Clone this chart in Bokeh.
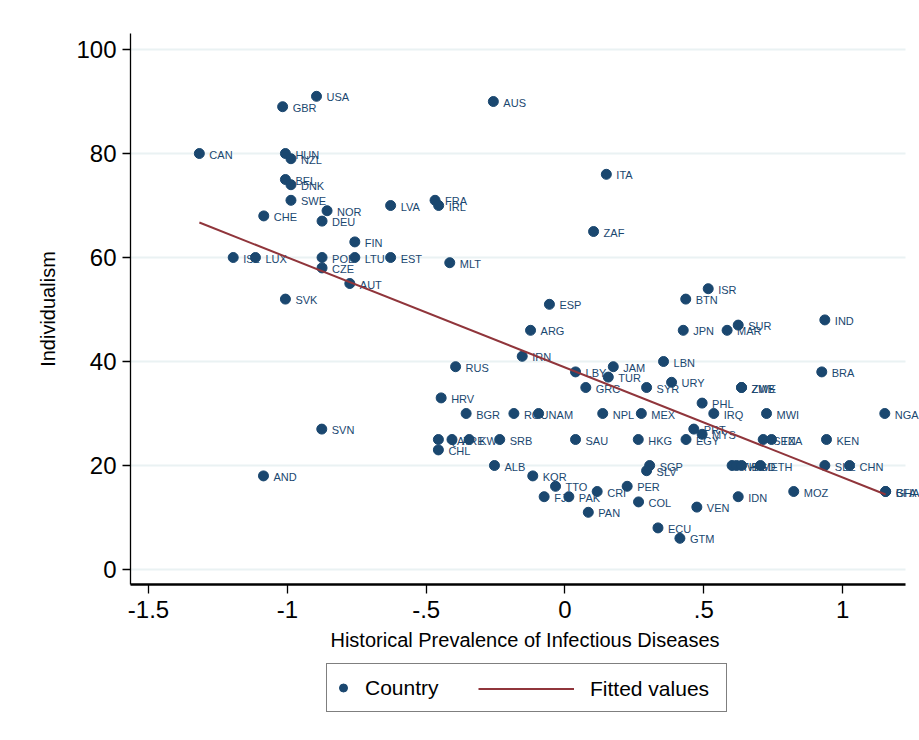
import numpy as np
from bokeh.plotting import figure
from bokeh.layouts import column
from bokeh.models import ColumnDataSource, FixedTicker, Legend, LegendItem, Range1d
from bokeh.core.properties import value
from bokeh.embed import file_html
from bokeh.resources import INLINE

countries = ["CAN", "USA", "GBR", "AUS", "HUN", "NZL", "BEL", "DNK", "SWE", "NOR",
             "CHE", "DEU", "LVA", "FRA", "IRL", "ITA", "ZAF", "FIN", "ISL", "LUX",
             "POL", "LTU", "EST", "CZE", "AUT", "MLT", "SVK", "ESP", "ARG", "IRN",
             "RUS", "LBY", "JAM", "TUR", "GRC", "SYR", "LBN", "URY", "ZMB", "ZWE",
             "BTN", "ISR", "JPN", "MAR", "SUR", "IND", "BRA", "HRV", "BGR", "ROU",
             "NAM", "NPL", "MEX", "PHL", "IRQ", "MWI", "NGA", "SVN", "PRT", "MYS",
             "EGY", "HKG", "SAU", "SRB", "QAT", "ARE", "KWT", "CHL", "ALB", "KOR",
             "TTO", "FJI", "PAK", "CRI", "PER", "SGP", "SLV", "COL", "PAN", "ECU",
             "GTM", "VEN", "IDN", "MOZ", "AND", "THA", "VNM", "BGD", "ETH", "SEN",
             "TZA", "KEN", "SLE", "CHN", "BFA", "GHA"]

pathogen = [-1.317, -0.895, -1.017, -0.258, -1.007, -0.987, -1.007, -0.987, -0.987, -0.857,
            -1.085, -0.875, -0.628, -0.468, -0.455, 0.149, 0.103, -0.757, -1.195, -1.115,
            -0.875, -0.757, -0.628, -0.875, -0.775, -0.415, -1.007, -0.056, -0.124, -0.154,
            -0.394, 0.038, 0.174, 0.156, 0.075, 0.294, 0.355, 0.384, 0.636, 0.636,
            0.435, 0.516, 0.426, 0.584, 0.624, 0.936, 0.925, -0.446, -0.356, -0.184,
            -0.095, 0.136, 0.275, 0.494, 0.536, 0.726, 1.152, -0.876, 0.464, 0.494,
            0.436, 0.264, 0.038, -0.235, -0.456, -0.407, -0.345, -0.456, -0.254, -0.116,
            -0.034, -0.075, 0.014, 0.116, 0.224, 0.305, 0.294, 0.265, 0.084, 0.335,
            0.414, 0.475, 0.624, 0.824, -1.086, 0.602, 0.618, 0.636, 0.704, 0.714,
            0.744, 0.942, 0.936, 1.025, 1.155, 1.155]

individualism = [80, 91, 89, 90, 80, 79, 75, 74, 71, 69,
                 68, 67, 70, 71, 70, 76, 65, 63, 60, 60,
                 60, 60, 60, 58, 55, 59, 52, 51, 46, 41,
                 39, 38, 39, 37, 35, 35, 40, 36, 35, 35,
                 52, 54, 46, 46, 47, 48, 38, 33, 30, 30,
                 30, 30, 30, 32, 30, 30, 30, 27, 27, 26,
                 25, 25, 25, 25, 25, 25, 25, 23, 20, 18,
                 16, 14, 14, 15, 16, 20, 19, 13, 11, 8,
                 6, 12, 14, 15, 18, 20, 20, 20, 20, 25,
                 25, 25, 20, 20, 15, 15]

x_ticks = [-1.5, -1.0, -0.5, 0.0, 0.5, 1.0]
x_tick_labels = ["-1.5", "-1", "-.5", "0", ".5", "1"]
y_ticks = [0, 20, 40, 60, 80, 100]

x_title = "Historical Prevalence of Infectious Diseases"
y_title = "Individualism"
legend_labels = ["Country", "Fitted values"]

NAVY = "#1a476f"
MAROON = "#90353b"
FONT = "Liberation Sans"

X_START, X_AXIS_END, X_END = -1.565, 1.2266, 1.277
Y_START, Y_END = -2.885, 103.08

x = np.array(pathogen, dtype=float)
y = np.array(individualism, dtype=float)
slope, intercept = np.polyfit(x, y, 1)
xfit = np.array([x.min(), x.max()])
yfit = intercept + slope * xfit

src = ColumnDataSource(dict(x=x, y=y, name=countries))
fit_src = ColumnDataSource(dict(x=xfit, y=yfit))
grid_src = ColumnDataSource(dict(x0=[X_START] * len(y_ticks), x1=[X_AXIS_END] * len(y_ticks),
                                 y=y_ticks))

p = figure(width=919, height=656,
           x_range=Range1d(X_START, X_END), y_range=Range1d(Y_START, Y_END),
           output_backend="svg", toolbar_location=None,
           min_border_left=130, min_border_right=0, min_border_top=33, min_border_bottom=72)
p.outline_line_color = None
p.background_fill_color = "white"
p.border_fill_color = "white"
p.grid.visible = False

# horizontal grid lines that stop where the x axis ends
p.segment(x0="x0", x1="x1", y0="y", y1="y", source=grid_src,
          line_color="#eaf2f3", line_width=2, level="underlay")
# x-axis rule, limited to the axis extent (frame extends further for labels)
p.segment(x0=[X_START], x1=[X_AXIS_END], y0=[Y_START], y1=[Y_START],
          line_color="black", line_width=2.6, level="overlay")

p.xaxis.ticker = FixedTicker(ticks=x_ticks)
p.xaxis.major_label_overrides = {float(k): v for k, v in zip(x_ticks, x_tick_labels)}
p.yaxis.ticker = FixedTicker(ticks=y_ticks)

for ax in (p.xaxis, p.yaxis):
    ax.axis_line_color = "black"
    ax.axis_line_width = 1.3
    ax.major_tick_line_color = "black"
    ax.major_tick_line_width = 1.3
    ax.major_tick_in = 0
    ax.minor_tick_line_color = None
    ax.major_label_text_font = FONT
    ax.major_label_text_font_size = "24px"
    ax.major_label_text_color = "black"
    ax.axis_label_text_font = FONT
    ax.axis_label_text_font_size = "20px"
    ax.axis_label_text_font_style = "normal"
    ax.axis_label_text_color = "black"

p.xaxis.axis_line_color = None
p.xaxis.major_tick_out = 9
p.xaxis.major_label_standoff = 7
p.xaxis.axis_label = x_title
p.xaxis.axis_label_standoff = 8
p.yaxis.major_tick_out = 8
p.yaxis.major_label_standoff = 6
p.yaxis.axis_label = y_title
p.yaxis.axis_label_standoff = 14

p.text(x="x", y="y", text="name", source=src, x_offset=10, y_offset=1,
       text_baseline="middle", text_align="left", text_font_size="11px",
       text_color=NAVY, text_font=value(FONT))
p.scatter(x="x", y="y", source=src, size=10, fill_color=NAVY, line_color=NAVY)
p.line(x="x", y="y", source=fit_src, line_color=MAROON, line_width=2)

# legend panel (its frame is aligned with the main plot's frame by the column)
lg = figure(width=919, height=84, x_range=Range1d(0, 1), y_range=Range1d(0, 1),
            output_backend="svg", toolbar_location=None,
            x_axis_type=None, y_axis_type=None,
            min_border_left=0, min_border_right=0, min_border_top=0, min_border_bottom=0)
lg.outline_line_color = None
lg.grid.visible = False
lg.background_fill_color = "white"
lg.border_fill_color = "white"
# same data, outside this panel's ranges: only their legend swatches show
sc_key = lg.scatter(x="x", y="y", source=src, size=10, fill_color=NAVY, line_color=NAVY)
ln_key = lg.line(x="x", y="y", source=fit_src, line_color=MAROON, line_width=2)

legA = Legend(items=[LegendItem(label=legend_labels[0], renderers=[sc_key])],
              location=(196, 28), orientation="horizontal", margin=0,
              padding=6, glyph_width=20, glyph_height=35, label_standoff=12,
              label_width=355, label_height=35,
              border_line_color="black", border_line_width=1.2,
              background_fill_color="white", background_fill_alpha=1,
              label_text_font=FONT, label_text_font_size="21px", label_text_color="black")
legB = Legend(items=[LegendItem(label=legend_labels[1], renderers=[ln_key])],
              location=(348, 34), orientation="horizontal", margin=0,
              padding=6, glyph_width=96, glyph_height=35, label_standoff=16,
              label_height=35,
              border_line_color=None, background_fill_alpha=0,
              label_text_font=FONT, label_text_font_size="21px", label_text_color="black")
lg.add_layout(legA)
lg.add_layout(legB)

layout = column(p, lg, spacing=0)
open("out.html", "w").write(file_html(layout, INLINE))
